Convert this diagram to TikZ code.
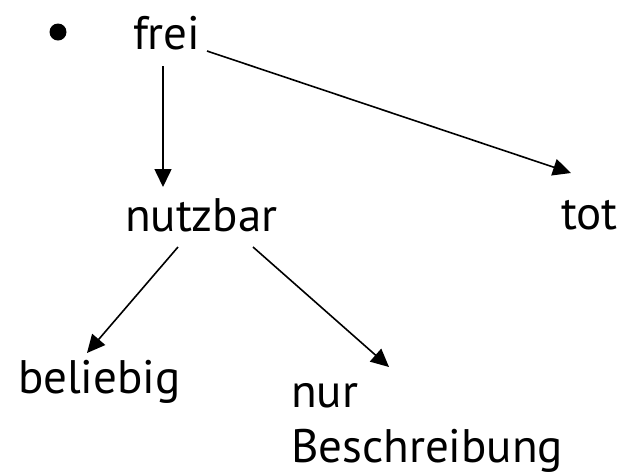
\documentclass[tikz,border=0pt]{standalone}
\usepackage{fontspec}
\setmainfont{PT Sans}
\usetikzlibrary{arrows.meta}
\tikzset{
  lbl/.style={inner sep=0pt, outer sep=0pt, anchor=base west, font=\fontsize{47}{55}\selectfont},
  arr/.style={line width=1.6pt, -{Triangle[length=18pt,width=17pt]}},
}
\begin{document}
\begin{tikzpicture}[x=1pt,y=-1pt]
\useasboundingbox (0,0) rectangle (626,475);
\node[circle, fill=black, minimum size=17pt, inner sep=0pt] (bul) at (58,32) {};
\node[lbl] (frei) at (133,49) {frei};
\node[lbl] (nutzbar) at (125,231) {nutzbar};
\node[lbl] (tot) at (561,229) {tot};
\node[lbl] (beliebig) at (18,393) {beliebig};
\node[lbl, align=left] (nur) at (291,462) {nur\\Beschreibung};
\coordinate (f1) at (163,66);
\coordinate (f2) at (207,51);
\coordinate (n1) at (178,247);
\coordinate (n2) at (253,247);
\coordinate (tn) at (163,187);
\coordinate (tt) at (571,173);
\coordinate (tb) at (87,353);
\coordinate (tr) at (389,367);
\draw[arr] (f1) -- (tn);
\draw[arr] (f2) -- (tt);
\draw[arr] (n1) -- (tb);
\draw[arr] (n2) -- (tr);
\end{tikzpicture}
\end{document}
